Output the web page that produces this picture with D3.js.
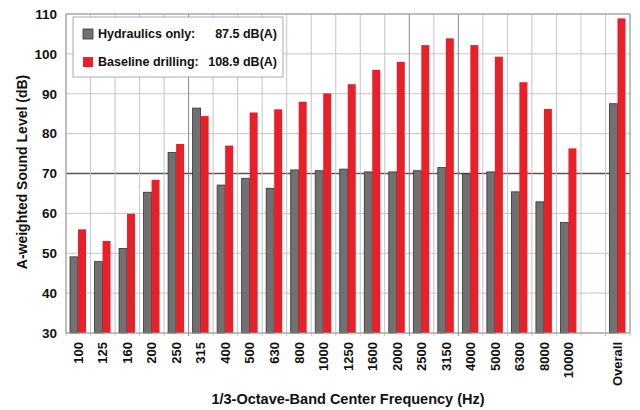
<!DOCTYPE html>
<html>
<head>
<meta charset="utf-8">
<script src="https://cdn.jsdelivr.net/npm/d3@7"></script>
<style>
  body { margin: 0; background: #fff; }
  text { font-family: "Liberation Sans", Arial, Helvetica, sans-serif; font-weight: bold; fill: #111; }
</style>
</head>
<body>
<div id="chart"></div>
<script>
// band labels (the empty string is the gap before "Overall")
var bands = ["100", "125", "160", "200", "250", "315", "400", "500", "630", "800",
  "1000", "1250", "1600", "2000", "2500", "3150", "4000", "5000", "6300", "8000",
  "10000", "", "Overall"];

// A-weighted levels (dB)
var hydraulics = [49.1, 47.9, 51.2, 65.3, 75.3, 86.4, 67.1, 68.8, 66.3, 70.9,
  70.7, 71.1, 70.4, 70.4, 70.7, 71.5, 69.9, 70.4, 65.4, 62.9,
  57.7, null, 87.5];
var baseline = [56.0, 53.1, 59.9, 68.4, 77.4, 84.4, 77.0, 85.3, 86.1, 88.0,
  90.1, 92.4, 96.0, 98.0, 102.2, 103.9, 102.2, 99.3, 92.9, 86.2,
  76.3, null, 108.9];

var yTicks = [30, 40, 50, 60, 70, 80, 90, 100, 110];

var legendNames = ["Hydraulics only:", "Baseline drilling:"];
var legendTotals = ["87.5 dB(A)", "108.9 dB(A)"];

var svgWidth = 640;
var svgHeight = 410;
var margin = { top: 14, right: 10, bottom: 77, left: 66 };
var width = svgWidth - margin.left - margin.right;
var height = svgHeight - margin.top - margin.bottom;

var grayFill = "#717171";
var redFill = "#e8202a";
var font = "\"Liberation Sans\", Arial, sans-serif";

var svg = d3.select("#chart")
  .append("svg")
  .attr("width", svgWidth)
  .attr("height", svgHeight);

var chartGroup = svg.append("g")
  .attr("transform", `translate(${margin.left}, ${margin.top})`);

// scales
var xScale = d3.scaleBand()
  .domain(d3.range(bands.length))
  .range([0, width])
  .padding(0);

var xSub = d3.scaleBand()
  .domain([0, 1])
  .range([4, 20]);

var yScale = d3.scaleLinear()
  .domain([30, 110])
  .range([height, 0]);

// horizontal grid
chartGroup.append("g")
  .selectAll("line")
  .data(yTicks)
  .enter()
  .append("line")
  .attr("x1", 0)
  .attr("x2", width)
  .attr("y1", d => yScale(d))
  .attr("y2", d => yScale(d))
  .attr("stroke", d => d === 70 ? "#555" : "#c4c4c4")
  .attr("stroke-width", d => d === 70 ? 1.3 : 1);

// vertical grid at slot boundaries
var darkLines = [5, 14, 16];
chartGroup.append("g")
  .selectAll("line")
  .data(d3.range(bands.length + 1))
  .enter()
  .append("line")
  .attr("x1", d => d === bands.length ? width : xScale(d))
  .attr("x2", d => d === bands.length ? width : xScale(d))
  .attr("y1", 0)
  .attr("y2", height + 3)
  .attr("stroke", d => darkLines.indexOf(d) >= 0 ? "#888" : "#c4c4c4")
  .attr("stroke-width", 1);

// bars
var pairs = bands.map((b, i) => ({ i: i, values: [hydraulics[i], baseline[i]] }))
  .filter(d => d.values[0] !== null);

var groups = chartGroup.selectAll(".pair")
  .data(pairs)
  .enter()
  .append("g")
  .attr("class", "pair")
  .attr("transform", d => `translate(${xScale(d.i)}, 0)`);

groups.selectAll("rect")
  .data(d => d.values)
  .enter()
  .append("rect")
  .attr("x", (d, k) => xSub(k))
  .attr("width", xSub.bandwidth())
  .attr("y", d => yScale(d))
  .attr("height", d => height - yScale(d))
  .attr("fill", (d, k) => k === 0 ? grayFill : redFill)
  .attr("stroke", (d, k) => k === 0 ? "#333" : "none")
  .attr("stroke-width", 0.8);

// plot frame
chartGroup.append("rect")
  .attr("width", width)
  .attr("height", height)
  .attr("fill", "none")
  .attr("stroke", "#999");

// y axis labels
var yAxis = chartGroup.append("g")
  .call(d3.axisLeft(yScale).tickValues(yTicks).tickSize(0).tickPadding(9));
yAxis.select(".domain").remove();
yAxis.selectAll("text")
  .style("font-size", "13.5px")
  .style("font-family", font)
  .style("font-weight", "bold")
  .attr("fill", "#111");

// x axis labels (rotated)
var xAxis = chartGroup.append("g")
  .attr("transform", `translate(0, ${height})`)
  .call(d3.axisBottom(xScale).tickFormat(i => bands[i]).tickSize(0));
xAxis.select(".domain").remove();
xAxis.selectAll("text")
  .attr("transform", "rotate(-90)")
  .attr("text-anchor", "end")
  .attr("x", -9)
  .attr("y", 0)
  .attr("dy", "0.35em")
  .style("font-size", "13px")
  .style("font-family", font)
  .style("font-weight", "bold")
  .attr("fill", "#111");

// axis titles
svg.append("text")
  .attr("transform", `translate(27, 172) rotate(-90)`)
  .attr("text-anchor", "middle")
  .style("font-size", "14px")
  .text("A-weighted Sound Level (dB)");

svg.append("text")
  .attr("x", 348)
  .attr("y", 404)
  .attr("text-anchor", "middle")
  .style("font-size", "14.5px")
  .text("1/3-Octave-Band Center Frequency (Hz)");

// legend
var legend = chartGroup.append("g")
  .attr("transform", "translate(7, 3)");

legend.append("rect")
  .attr("width", 210)
  .attr("height", 60)
  .attr("fill", "#fff")
  .attr("stroke", "#aaa");

var legendItems = legend.selectAll(".item")
  .data(legendNames)
  .enter()
  .append("g")
  .attr("class", "item")
  .attr("transform", (d, i) => `translate(10, ${17 + i * 28})`);

legendItems.append("rect")
  .attr("x", 0)
  .attr("y", -5)
  .attr("width", 10)
  .attr("height", 10)
  .attr("fill", (d, i) => i === 0 ? grayFill : redFill)
  .attr("stroke", (d, i) => i === 0 ? "#333" : "none")
  .attr("stroke-width", 0.8);

legendItems.append("text")
  .attr("x", 15)
  .attr("dy", "0.35em")
  .style("font-size", "12.5px")
  .text(d => d);

legendItems.append("text")
  .attr("x", 194)
  .attr("dy", "0.35em")
  .attr("text-anchor", "end")
  .style("font-size", "12.5px")
  .text((d, i) => legendTotals[i]);
</script>
</body>
</html>
